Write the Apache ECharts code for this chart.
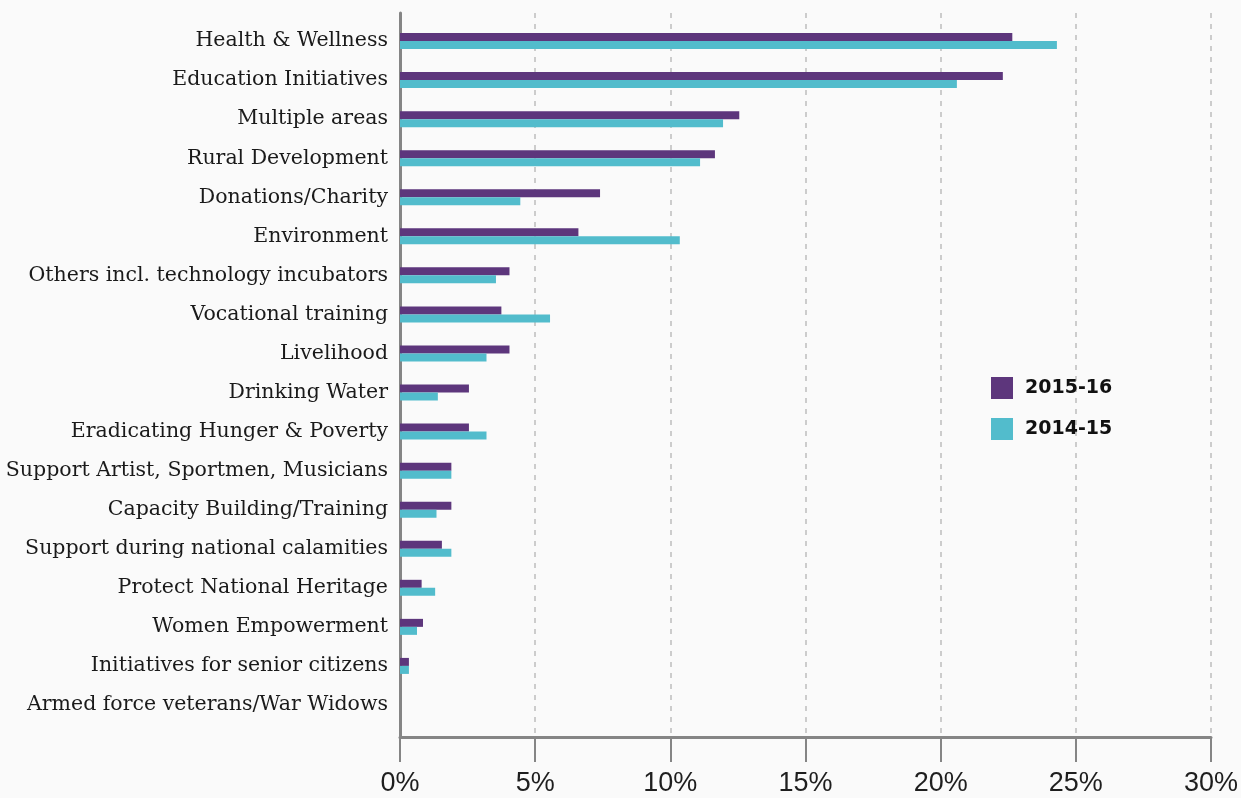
<!DOCTYPE html>
<html>
<head>
<meta charset="utf-8">
<style>
  html, body { margin: 0; padding: 0; background: #fafafa; }
  #chart { width: 1241px; height: 798px; }
</style>
<script src="https://cdn.jsdelivr.net/npm/echarts@6/dist/echarts.min.js"></script>
</head>
<body>
<div id="chart"></div>
<script>
// CSR spend share by focus area (% of total)
const categories = [
  'Health & Wellness',
  'Education Initiatives',
  'Multiple areas',
  'Rural Development',
  'Donations/Charity',
  'Environment',
  'Others incl. technology incubators',
  'Vocational training',
  'Livelihood',
  'Drinking Water',
  'Eradicating Hunger & Poverty',
  'Support Artist, Sportmen, Musicians',
  'Capacity Building/Training',
  'Support during national calamities',
  'Protect National Heritage',
  'Women Empowerment',
  'Initiatives for senior citizens',
  'Armed force veterans/War Widows'
];
const share2015_16 = [22.65, 22.3, 12.55, 11.65, 7.4, 6.6, 4.05, 3.75, 4.05, 2.55, 2.55, 1.9, 1.9, 1.55, 0.8, 0.85, 0.33, 0];
const share2014_15 = [24.3, 20.6, 11.95, 11.1, 4.45, 10.35, 3.55, 5.55, 3.2, 1.4, 3.2, 1.9, 1.35, 1.9, 1.3, 0.63, 0.33, 0];
const seriesNames = ['2015-16', '2014-15'];
const xTicks = [0, 5, 10, 15, 20, 25, 30];

const PURPLE = '#5d367c';
const CYAN = '#52bccc';
const AXIS_GREY = '#858585';

const chart = echarts.init(document.getElementById('chart'), null, { renderer: 'canvas' });

chart.setOption({
  backgroundColor: '#fafafa',
  animation: false,
  legend: {
    orient: 'vertical',
    left: 991,
    top: 377,
    padding: 0,
    itemWidth: 22,
    itemHeight: 22,
    itemGap: 19,
    icon: 'rect',
    data: seriesNames,
    textStyle: {
      fontFamily: '"DejaVu Sans", sans-serif',
      fontWeight: 'bold',
      fontSize: 19,
      color: '#111111',
      padding: [0, 0, 0, 7]
    }
  },
  grid: [
    // frame: axis lines, ticks, percent labels and dashed guides
    { left: 400, right: 30, top: 13, bottom: 61, containLabel: false },
    // bars and category labels
    { left: 400, right: 30, top: 21.5, bottom: 73.5, containLabel: false }
  ],
  xAxis: [
    {
      gridIndex: 0,
      type: 'value',
      min: xTicks[0],
      max: xTicks[xTicks.length - 1],
      interval: 5,
      axisLine: { show: true, lineStyle: { color: AXIS_GREY, width: 3 } },
      axisTick: { show: true, length: 25, lineStyle: { color: AXIS_GREY, width: 2 } },
      axisLabel: {
        margin: 33,
        formatter: v => v + '%',
        fontFamily: '"Liberation Sans", Arial, sans-serif',
        fontSize: 27,
        color: '#1e1e1e'
      },
      splitLine: {
        show: true,
        lineStyle: { color: '#cccccc', width: 2, type: [5, 6] }
      }
    },
    {
      gridIndex: 1,
      type: 'value',
      min: 0,
      max: 30,
      show: false
    }
  ],
  yAxis: [
    {
      gridIndex: 0,
      type: 'value',
      min: 0,
      max: 1,
      axisLine: { show: true, lineStyle: { color: AXIS_GREY, width: 3 } },
      axisTick: { show: false },
      axisLabel: { show: false },
      splitLine: { show: false }
    },
    {
      gridIndex: 1,
      type: 'category',
      inverse: true,
      data: categories,
      axisLine: { show: false },
      axisTick: { show: false },
      axisLabel: {
        margin: 12,
        fontFamily: '"DejaVu Serif", "Liberation Serif", serif',
        fontSize: 20.5,
        color: '#1a1a1a'
      }
    }
  ],
  series: [
    {
      name: seriesNames[0],
      type: 'bar',
      xAxisIndex: 1,
      yAxisIndex: 1,
      data: share2015_16,
      barWidth: 8,
      barGap: '0%',
      itemStyle: { color: PURPLE }
    },
    {
      name: seriesNames[1],
      type: 'bar',
      xAxisIndex: 1,
      yAxisIndex: 1,
      data: share2014_15,
      barWidth: 8,
      barGap: '0%',
      itemStyle: { color: CYAN }
    }
  ]
});
</script>
</body>
</html>
